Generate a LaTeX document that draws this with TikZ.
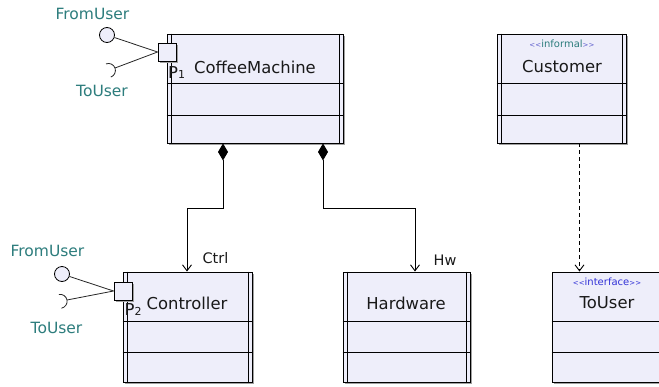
\documentclass[tikz,border=0pt]{standalone}
\usepackage{fontspec}
\setmainfont{DejaVu Sans}
\usetikzlibrary{arrows.meta,calc,shadows}

\definecolor{boxfill}{RGB}{238,238,250}
\definecolor{shadowgray}{RGB}{160,160,160}
\definecolor{portlabel}{RGB}{45,125,125}
\definecolor{stereoblue}{RGB}{50,50,215}
\definecolor{angleblue}{RGB}{95,95,205}
\definecolor{inktext}{RGB}{25,25,25}

\tikzset{
  classbox/.style={draw=black, line width=0.9pt, fill=boxfill, inner sep=0pt,
    drop shadow={shadow xshift=2pt, shadow yshift=-2pt, fill=shadowgray, opacity=1}},
  portbox/.style={draw=black, line width=0.9pt, fill=boxfill, minimum size=18pt, inner sep=0pt,
    drop shadow={shadow xshift=1.5pt, shadow yshift=-1.5pt, fill=shadowgray, opacity=1}},
  lolli/.style={circle, draw=black, line width=0.8pt, fill=boxfill, minimum size=15pt, inner sep=0pt},
  boxline/.style={line width=0.9pt, black},
  wire/.style={line width=0.8pt, black!85},
  classname/.style={font=\fontsize{16.4}{18}\selectfont, text=inktext, inner sep=0pt},
  portname/.style={font=\fontsize{15.5}{17}\selectfont, text=portlabel, inner sep=0pt},
  rolename/.style={font=\fontsize{14.5}{16}\selectfont, text=inktext, inner sep=0pt},
  stereo/.style={font=\fontsize{10}{12}\selectfont, inner sep=0pt},
  pinname/.style={font=\fontsize{16.4}{18}\selectfont, text=inktext, inner sep=0pt, anchor=base west},
  comp/.style={line width=0.9pt, black, {Diamond[length=17pt,width=10pt]}-{Straight Barb[length=6pt,width=9pt]}},
  dep/.style={line width=0.9pt, black, dash pattern=on 4pt off 3pt, -{Straight Barb[length=6pt,width=9pt]}},
}

% compartment separators of a class box
\newcommand{\compartments}[3]{%
  \draw[boxline] (#1.west |- 0,#2) -- (#1.east |- 0,#2);
  \draw[boxline] (#1.west |- 0,#3) -- (#1.east |- 0,#3);}
% inner side bars of an active class
\newcommand{\activebars}[1]{%
  \draw[boxline] ([xshift=4.5pt]#1.north west) -- ([xshift=4.5pt]#1.south west);
  \draw[boxline] ([xshift=-4.5pt]#1.north east) -- ([xshift=-4.5pt]#1.south east);}
% small angle brackets of a stereotype
\newcommand{\sopen}{{\fontsize{7}{8}\selectfont<\kern0.2pt<}}
\newcommand{\sclose}{{\fontsize{7}{8}\selectfont>\kern0.2pt>}}

\begin{document}
\begin{tikzpicture}[x=1pt,y=-1pt]
\useasboundingbox (0,0) rectangle (659,386);
\clip (0,0) rectangle (659,386);
\fill[white] (0,0) rectangle (659,386);

% class boxes
\node[classbox, minimum width=176pt, minimum height=109pt] (cm)   at (255,88.5) {};
\node[classbox, minimum width=129pt, minimum height=109pt] (cust) at (561.5,88.5) {};
\node[classbox, minimum width=129pt, minimum height=110pt] (ctrl) at (187.5,327) {};
\node[classbox, minimum width=127pt, minimum height=110pt] (hw)   at (406.5,327) {};
\node[classbox, minimum width=110pt, minimum height=110pt] (tou)  at (607,327) {};

\compartments{cm}{83}{115}
\compartments{cust}{83}{115}
\compartments{ctrl}{321}{352}
\compartments{hw}{321}{352}
\compartments{tou}{321}{352}

\activebars{cm}
\activebars{cust}
\activebars{ctrl}
\activebars{hw}

% class names and stereotypes
\node[classname] (cmname)   at (255,67)  {CoffeeMachine};
\node[classname] (custname) at (562,67)  {Customer};
\node[classname] (ctrlname) at (187,303) {Controller};
\node[classname] (hwname)   at (406,303) {Hardware};
\node[classname] (touname)  at (607,303) {ToUser};
\node[stereo] (custst) at (562,44)
  {\textcolor{angleblue}{\sopen}\textcolor{portlabel}{informal}\textcolor{angleblue}{\sclose}};
\node[stereo, text=stereoblue] (toust) at (607,282) {\sopen interface\sclose};

% composition and dependency connectors
\draw[comp] (223,0 |- cm.south) -- (223,208) -| (187,0 |- ctrl.north);
\draw[comp] (323,0 |- cm.south) -- (323,208) -| (415,0 |- hw.north);
\draw[dep] (579.5,0 |- cust.south) -- (579.5,0 |- tou.north);
\node[rolename] (ctrlrole) at (215.5,258) {Ctrl};
\node[rolename] (hwrole)   at (445,260)   {Hw};

% port P1 of CoffeeMachine
\node[portbox] (p1) at (167,52) {};
\node[lolli] (fu1) at (107,35) {};
\coordinate (s1) at (115,68);
\coordinate (c1) at ($(s1)!-7pt!(p1.west)$);
\draw[wire] (fu1) -- (p1.west);
\draw[wire] (s1) -- (p1.west);
\draw[wire] ($(c1)+(-110:7)$) arc[start angle=-110, end angle=70, radius=7];
\node[portname] (fu1lab) at (92.5,14) {FromUser};
\node[portname] (tu1lab) at (102,91)  {ToUser};
\node[pinname] (p1lab) at (168,78) {P{\fontsize{11}{12}\selectfont 1}};

% port P2 of Controller
\node[portbox] (p2) at (123,291) {};
\node[lolli] (fu2) at (62,274) {};
\coordinate (s2) at (67,300);
\coordinate (c2) at ($(s2)!-7pt!(p2.west)$);
\draw[wire] (fu2) -- (p2.west);
\draw[wire] (s2) -- (p2.west);
\draw[wire] ($(c2)+(-101:7)$) arc[start angle=-101, end angle=79, radius=7];
\node[portname] (fu2lab) at (47.5,251) {FromUser};
\node[portname] (tu2lab) at (56.5,328) {ToUser};
\node[pinname] (p2lab) at (124.5,315) {P{\fontsize{11}{12}\selectfont 2}};
\end{tikzpicture}
\end{document}
